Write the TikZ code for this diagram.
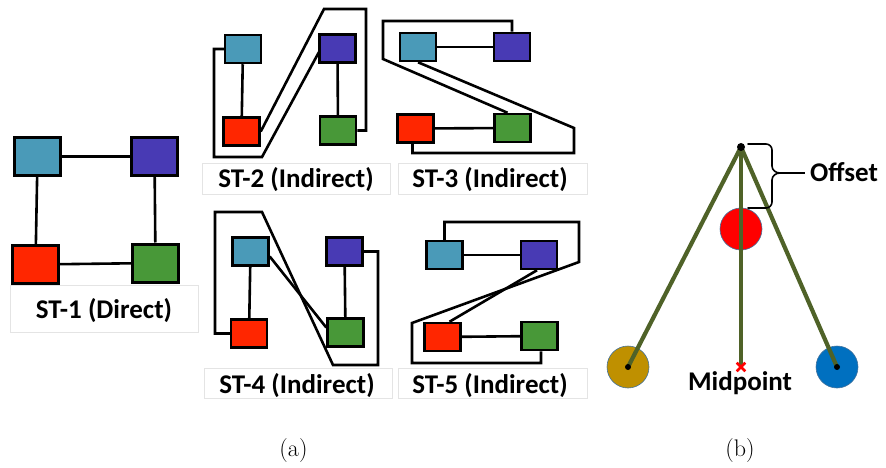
\documentclass[tikz,border=0pt]{standalone}
\usepackage{fontspec}
\setsansfont{Carlito}
\usetikzlibrary{calc,shapes.misc}

\definecolor{boxcyan}{RGB}{74,154,184}
\definecolor{boxpurple}{RGB}{72,58,180}
\definecolor{boxred}{RGB}{255,38,0}
\definecolor{boxgreen}{RGB}{72,152,56}
\definecolor{stickgreen}{RGB}{79,98,40}
\definecolor{ballred}{RGB}{255,0,0}
\definecolor{ballgold}{RGB}{191,144,0}
\definecolor{ballblue}{RGB}{0,112,192}
\definecolor{ballrim}{RGB}{65,113,156}
\definecolor{framegray}{RGB}{228,228,228}

\begin{document}
\begin{tikzpicture}[x=1pt,y=-1pt,
  bigsq/.style={draw=black,line width=3pt,inner sep=0pt,minimum width=46pt,minimum height=38pt},
  smallsq/.style={draw=black,line width=2.5pt,inner sep=0pt,minimum width=36pt,minimum height=28pt},
  edgeline/.style={draw=black,line width=2.6pt},
  tourline/.style={draw=black,line width=2.6pt,line join=miter},
  lblbox/.style={draw=framegray,line width=0.8pt},
  lbl/.style={font=\sffamily\bfseries\fontsize{27}{31}\selectfont,anchor=base,inner sep=0pt},
  subcaption/.style={font=\fontsize{24}{28}\selectfont,anchor=base,inner sep=0pt},
  ballnode/.style={circle,draw=ballrim,line width=0.6pt,minimum size=42pt,inner sep=0pt},
  blob/.style={circle,fill=black,minimum size=#1,inner sep=0pt},
  rodline/.style={draw=stickgreen,line width=4.2pt}]

\useasboundingbox (0,0) rectangle (886,468);

% ---------- label frames ----------
\draw[lblbox] (10,285) rectangle (198,332);
\draw[lblbox] (202,163) rectangle (390,194);
\draw[lblbox] (398,163) rectangle (587,194);
\draw[lblbox] (204,368) rectangle (392,398);
\draw[lblbox] (398,368) rectangle (587,398);

% ---------- ST-1 ----------
\node[bigsq,fill=boxcyan]   (c1) at (37.5,156.5) {};
\node[bigsq,fill=boxpurple] (p1) at (154.5,156.5) {};
\node[bigsq,fill=boxred]    (r1) at (35.5,264.5) {};
\node[bigsq,fill=boxgreen]  (g1) at (155.5,263) {};
\draw[edgeline] (c1) -- (p1);
\draw[edgeline] (c1) -- (r1);
\draw[edgeline] (p1) -- (g1);
\draw[edgeline] (r1) -- (g1);
\node[lbl] (t1) at (104,318) {ST-1 (Direct)};

% ---------- ST-2 ----------
\node[smallsq,fill=boxcyan]   (c2) at (243,49) {};
\node[smallsq,fill=boxpurple] (p2) at (337.5,48.5) {};
\node[smallsq,fill=boxred]    (r2) at (241.5,131.5) {};
\node[smallsq,fill=boxgreen]  (g2) at (338,130.5) {};
\draw[edgeline] (c2) -- (r2);
\draw[edgeline] (p2) -- (g2);
\draw[tourline] (c2.west) -- (214,49) -- (214,157) -- (262,157) -- (319,52);
\draw[tourline] (r2.east) -- (324,9) -- (366,9) |- (g2.east);
\node[lbl] (t2) at (296,187) {ST-2 (Indirect)};

% ---------- ST-3 ----------
\node[smallsq,fill=boxcyan]   (c3) at (418,47) {};
\node[smallsq,fill=boxpurple] (p3) at (512,47) {};
\node[smallsq,fill=boxred]    (r3) at (415.5,128.5) {};
\node[smallsq,fill=boxgreen]  (g3) at (512.5,128) {};
\draw[edgeline] (c3) -- (p3);
\draw[edgeline] (r3) -- (g3);
\draw[tourline] (p3.north) |- (383,21) -- (383,59) -- ($(g3.north)+(-5,0)$);
\draw[tourline] (c3.south) -- (574,128) -- (574,153) -| ($(r3.south)+(-3,0)$);
\node[lbl] (t3) at (490,187) {ST-3 (Indirect)};

% ---------- ST-4 ----------
\node[smallsq,fill=boxcyan]   (c4) at (250.5,251.5) {};
\node[smallsq,fill=boxpurple] (p4) at (344.5,251.5) {};
\node[smallsq,fill=boxred]    (r4) at (249,333.5) {};
\node[smallsq,fill=boxgreen]  (g4) at (345.5,332.5) {};
\draw[edgeline] (c4) -- (r4);
\draw[edgeline] (p4) -- (g4);
\draw[tourline] (r4.west) -| (215,212) -- (262,212) -- (333,365) -- (378,365) |- (p4.east);
\draw[tourline] ($(c4.east)+(0,5)$) -- ($(g4.west)+(0,-5)$);
\node[lbl] (t4) at (297,393) {ST-4 (Indirect)};

% ---------- ST-5 ----------
\node[smallsq,fill=boxcyan]   (c5) at (444.5,255) {};
\node[smallsq,fill=boxpurple] (p5) at (539,255) {};
\node[smallsq,fill=boxred]    (r5) at (442.5,337) {};
\node[smallsq,fill=boxgreen]  (g5) at (539.5,336) {};
\draw[edgeline] (c5) -- (p5);
\draw[edgeline] (r5) -- (g5);
\draw[tourline] (c5.north) |- (579,222) -- (579,262) -- (412,323) -- (412,363) -| ($(g5.south)+(1.5,0)$);
\draw[tourline] ($(p5.south)+(-2,0)$) -- ($(r5.north)+(7,0)$);
\node[lbl] (t5) at (490,393) {ST-5 (Indirect)};

\node[subcaption] (capa) at (293.5,456) {(a)};

% ---------- (b): offset midpoint ----------
\node[ballnode,fill=ballred]  (rb) at (741,229) {};
\node[ballnode,fill=ballgold] (gb) at (628,367) {};
\node[ballnode,fill=ballblue] (bb) at (837,367) {};
\coordinate (apex) at (741,147);
\coordinate (mid) at (741,367);
\draw[rodline] (apex) -- (gb.center);
\draw[rodline] (apex) -- (mid);
\draw[rodline] (apex) -- (bb.center);
\node[blob=8pt] (apexdot) at (apex) {};
\node[blob=6pt] (gdot) at (gb.center) {};
\node[blob=6pt] (bdot) at (bb.center) {};
\node[cross out,draw=red,line width=2.6pt,minimum size=6pt,inner sep=0pt] (mx) at (mid) {};

% brace marking the offset
\draw[line width=1.6pt,line cap=round]
  (748,144) -- (766,144) to[out=0,in=90] (772,150) -- (772,166)
  to[out=-90,in=180] (780,173)
  to[out=180,in=90] (772,180) -- (772,202) to[out=-90,in=0] (766,208) -- (748,208);
\coordinate (tip) at (780,173);
\node[lbl,anchor=base west] (off) at (810,182) {Offset};
\draw[line width=1.6pt] (tip) -- (805,173);
\node[lbl] (midlbl) at (740,390) {Midpoint};

\node[subcaption] (capb) at (740,456) {(b)};
\end{tikzpicture}
\end{document}
